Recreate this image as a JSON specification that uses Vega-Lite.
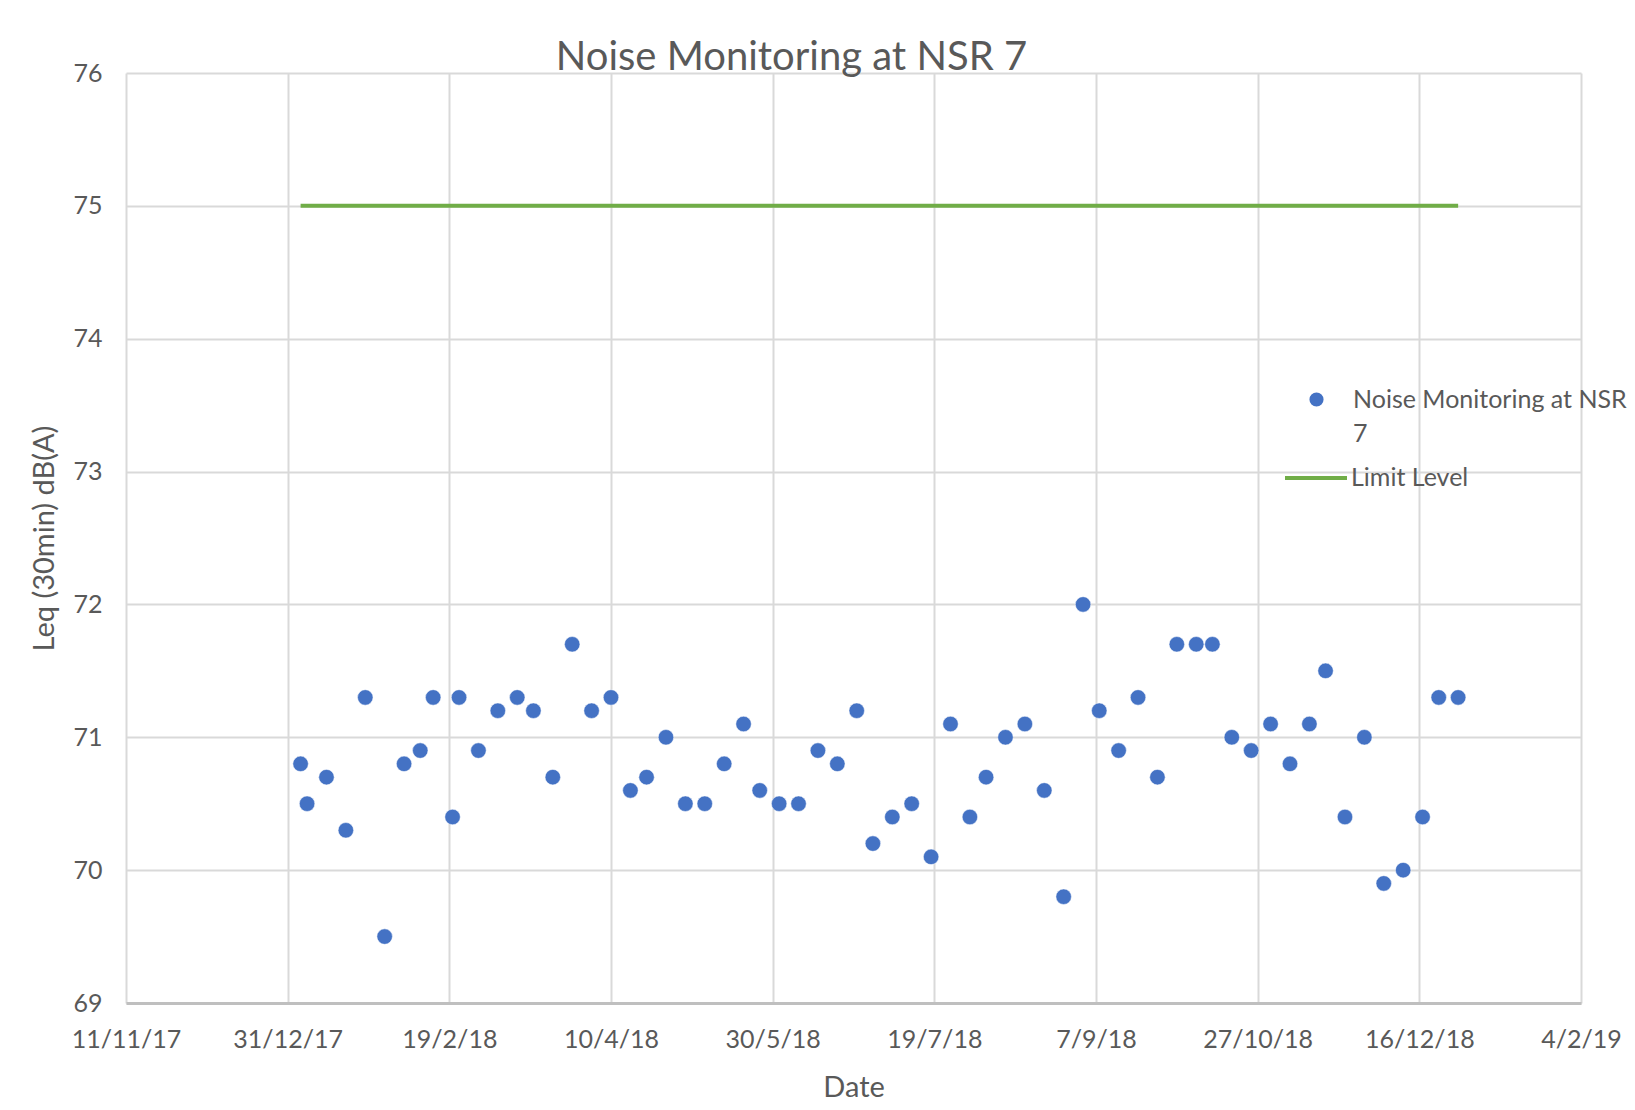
{
  "$schema": "https://vega.github.io/schema/vega-lite/v6.json",
  "width": 1455,
  "height": 930,
  "autosize": {"type": "none"},
  "padding": {"left": 126, "top": 73, "right": 54, "bottom": 107},
  "background": "white",
  "title": {
    "text": "Noise Monitoring at NSR 7",
    "font": "Lato",
    "fontSize": 40,
    "fontWeight": "normal",
    "color": "#595959",
    "anchor": "middle",
    "dx": -62,
    "offset": -17
  },
  "datasets": {
    "noise": [
      {"date": "2018-01-04", "leq": 70.8, "series": "Noise Monitoring at NSR 7"},
      {"date": "2018-01-06", "leq": 70.5, "series": "Noise Monitoring at NSR 7"},
      {"date": "2018-01-12", "leq": 70.7, "series": "Noise Monitoring at NSR 7"},
      {"date": "2018-01-18", "leq": 70.3, "series": "Noise Monitoring at NSR 7"},
      {"date": "2018-01-24", "leq": 71.3, "series": "Noise Monitoring at NSR 7"},
      {"date": "2018-01-30", "leq": 69.5, "series": "Noise Monitoring at NSR 7"},
      {"date": "2018-02-05", "leq": 70.8, "series": "Noise Monitoring at NSR 7"},
      {"date": "2018-02-10", "leq": 70.9, "series": "Noise Monitoring at NSR 7"},
      {"date": "2018-02-14", "leq": 71.3, "series": "Noise Monitoring at NSR 7"},
      {"date": "2018-02-20", "leq": 70.4, "series": "Noise Monitoring at NSR 7"},
      {"date": "2018-02-22", "leq": 71.3, "series": "Noise Monitoring at NSR 7"},
      {"date": "2018-02-28", "leq": 70.9, "series": "Noise Monitoring at NSR 7"},
      {"date": "2018-03-06", "leq": 71.2, "series": "Noise Monitoring at NSR 7"},
      {"date": "2018-03-12", "leq": 71.3, "series": "Noise Monitoring at NSR 7"},
      {"date": "2018-03-17", "leq": 71.2, "series": "Noise Monitoring at NSR 7"},
      {"date": "2018-03-23", "leq": 70.7, "series": "Noise Monitoring at NSR 7"},
      {"date": "2018-03-29", "leq": 71.7, "series": "Noise Monitoring at NSR 7"},
      {"date": "2018-04-04", "leq": 71.2, "series": "Noise Monitoring at NSR 7"},
      {"date": "2018-04-10", "leq": 71.3, "series": "Noise Monitoring at NSR 7"},
      {"date": "2018-04-16", "leq": 70.6, "series": "Noise Monitoring at NSR 7"},
      {"date": "2018-04-21", "leq": 70.7, "series": "Noise Monitoring at NSR 7"},
      {"date": "2018-04-27", "leq": 71.0, "series": "Noise Monitoring at NSR 7"},
      {"date": "2018-05-03", "leq": 70.5, "series": "Noise Monitoring at NSR 7"},
      {"date": "2018-05-09", "leq": 70.5, "series": "Noise Monitoring at NSR 7"},
      {"date": "2018-05-15", "leq": 70.8, "series": "Noise Monitoring at NSR 7"},
      {"date": "2018-05-21", "leq": 71.1, "series": "Noise Monitoring at NSR 7"},
      {"date": "2018-05-26", "leq": 70.6, "series": "Noise Monitoring at NSR 7"},
      {"date": "2018-06-01", "leq": 70.5, "series": "Noise Monitoring at NSR 7"},
      {"date": "2018-06-07", "leq": 70.5, "series": "Noise Monitoring at NSR 7"},
      {"date": "2018-06-13", "leq": 70.9, "series": "Noise Monitoring at NSR 7"},
      {"date": "2018-06-19", "leq": 70.8, "series": "Noise Monitoring at NSR 7"},
      {"date": "2018-06-25", "leq": 71.2, "series": "Noise Monitoring at NSR 7"},
      {"date": "2018-06-30", "leq": 70.2, "series": "Noise Monitoring at NSR 7"},
      {"date": "2018-07-06", "leq": 70.4, "series": "Noise Monitoring at NSR 7"},
      {"date": "2018-07-12", "leq": 70.5, "series": "Noise Monitoring at NSR 7"},
      {"date": "2018-07-18", "leq": 70.1, "series": "Noise Monitoring at NSR 7"},
      {"date": "2018-07-24", "leq": 71.1, "series": "Noise Monitoring at NSR 7"},
      {"date": "2018-07-30", "leq": 70.4, "series": "Noise Monitoring at NSR 7"},
      {"date": "2018-08-04", "leq": 70.7, "series": "Noise Monitoring at NSR 7"},
      {"date": "2018-08-10", "leq": 71.0, "series": "Noise Monitoring at NSR 7"},
      {"date": "2018-08-16", "leq": 71.1, "series": "Noise Monitoring at NSR 7"},
      {"date": "2018-08-22", "leq": 70.6, "series": "Noise Monitoring at NSR 7"},
      {"date": "2018-08-28", "leq": 69.8, "series": "Noise Monitoring at NSR 7"},
      {"date": "2018-09-03", "leq": 72.0, "series": "Noise Monitoring at NSR 7"},
      {"date": "2018-09-08", "leq": 71.2, "series": "Noise Monitoring at NSR 7"},
      {"date": "2018-09-14", "leq": 70.9, "series": "Noise Monitoring at NSR 7"},
      {"date": "2018-09-20", "leq": 71.3, "series": "Noise Monitoring at NSR 7"},
      {"date": "2018-09-26", "leq": 70.7, "series": "Noise Monitoring at NSR 7"},
      {"date": "2018-10-02", "leq": 71.7, "series": "Noise Monitoring at NSR 7"},
      {"date": "2018-10-08", "leq": 71.7, "series": "Noise Monitoring at NSR 7"},
      {"date": "2018-10-13", "leq": 71.7, "series": "Noise Monitoring at NSR 7"},
      {"date": "2018-10-19", "leq": 71.0, "series": "Noise Monitoring at NSR 7"},
      {"date": "2018-10-25", "leq": 70.9, "series": "Noise Monitoring at NSR 7"},
      {"date": "2018-10-31", "leq": 71.1, "series": "Noise Monitoring at NSR 7"},
      {"date": "2018-11-06", "leq": 70.8, "series": "Noise Monitoring at NSR 7"},
      {"date": "2018-11-12", "leq": 71.1, "series": "Noise Monitoring at NSR 7"},
      {"date": "2018-11-17", "leq": 71.5, "series": "Noise Monitoring at NSR 7"},
      {"date": "2018-11-23", "leq": 70.4, "series": "Noise Monitoring at NSR 7"},
      {"date": "2018-11-29", "leq": 71.0, "series": "Noise Monitoring at NSR 7"},
      {"date": "2018-12-05", "leq": 69.9, "series": "Noise Monitoring at NSR 7"},
      {"date": "2018-12-11", "leq": 70.0, "series": "Noise Monitoring at NSR 7"},
      {"date": "2018-12-17", "leq": 70.4, "series": "Noise Monitoring at NSR 7"},
      {"date": "2018-12-22", "leq": 71.3, "series": "Noise Monitoring at NSR 7"},
      {"date": "2018-12-28", "leq": 71.3, "series": "Noise Monitoring at NSR 7"}
    ],
    "limit": [
      {"date": "2018-01-04", "leq": 75, "series": "Limit Level"},
      {"date": "2018-12-28", "leq": 75, "series": "Limit Level"}
    ]
  },
  "encoding": {
    "x": {
      "field": "date",
      "type": "temporal",
      "title": "Date",
      "scale": {"type": "utc", "domain": [1510358400000, 1549238400000], "nice": false},
      "axis": {
        "values": [1510358400000, 1514678400000, 1518998400000, 1523318400000, 1527638400000, 1531958400000, 1536278400000, 1540598400000, 1544918400000, 1549238400000],
        "format": "%-d/%-m/%y",
        "labelFlush": false,
        "labelOverlap": false,
        "labelBound": false,
        "titlePadding": 21
      }
    },
    "y": {
      "field": "leq",
      "type": "quantitative",
      "title": "Leq (30min) dB(A)",
      "scale": {"domain": [69, 76], "nice": false, "zero": false},
      "axis": {"values": [69, 70, 71, 72, 73, 74, 75, 76], "titlePadding": 13}
    }
  },
  "layer": [
    {
      "data": {"name": "limit"},
      "mark": {"type": "line", "strokeWidth": 4},
      "encoding": {
        "stroke": {
          "field": "series",
          "type": "nominal",
          "scale": {"domain": ["Limit Level"], "range": ["#70ad47"]},
          "legend": {
            "title": null,
            "orient": "none",
            "legendX": 1157,
            "legendY": 372,
            "padding": 0,
            "symbolType": "stroke",
            "symbolSize": 3844,
            "symbolStrokeWidth": 4,
            "labelOffset": 2
          }
        }
      }
    },
    {
      "data": {"name": "noise"},
      "mark": {"type": "point", "filled": true, "shape": "circle", "size": 240, "opacity": 1, "stroke": "white", "strokeWidth": 0.5},
      "encoding": {
        "fill": {
          "field": "series",
          "type": "nominal",
          "scale": {"domain": ["Noise Monitoring at NSR 7"], "range": ["#4472c4"]},
          "legend": {
            "title": null,
            "orient": "none",
            "legendX": 1178,
            "legendY": 314,
            "padding": 0,
            "symbolType": "circle",
            "symbolSize": 200,
            "symbolStrokeWidth": 0,
            "labelOffset": 24,
            "labelBaseline": "middle",
            "labelExpr": "datum.label == 'Noise Monitoring at NSR 7' ? ['Noise Monitoring at NSR', '7'] : datum.label",
            "encode": {"labels": {"enter": {"lineHeight": {"value": 34}}, "update": {"lineHeight": {"value": 34}}}}
          }
        }
      }
    }
  ],
  "config": {
    "view": {"stroke": null},
    "style": {"guide-label": {"lineHeight": 34}},
    "axis": {
      "grid": true,
      "gridColor": "#d9d9d9",
      "gridWidth": 2,
      "ticks": false,
      "domain": false,
      "labelFont": "Lato",
      "labelFontSize": 25,
      "labelColor": "#595959",
      "labelPadding": 24,
      "titleFont": "Lato",
      "titleFontSize": 29,
      "titleFontWeight": "normal",
      "titleColor": "#595959"
    },
    "axisX": {"domain": true, "domainColor": "#bfbfbf", "domainWidth": 3},
    "legend": {
      "labelFont": "Lato",
      "labelFontSize": 25,
      "labelColor": "#595959",
      "labelLimit": 0
    }
  }
}
